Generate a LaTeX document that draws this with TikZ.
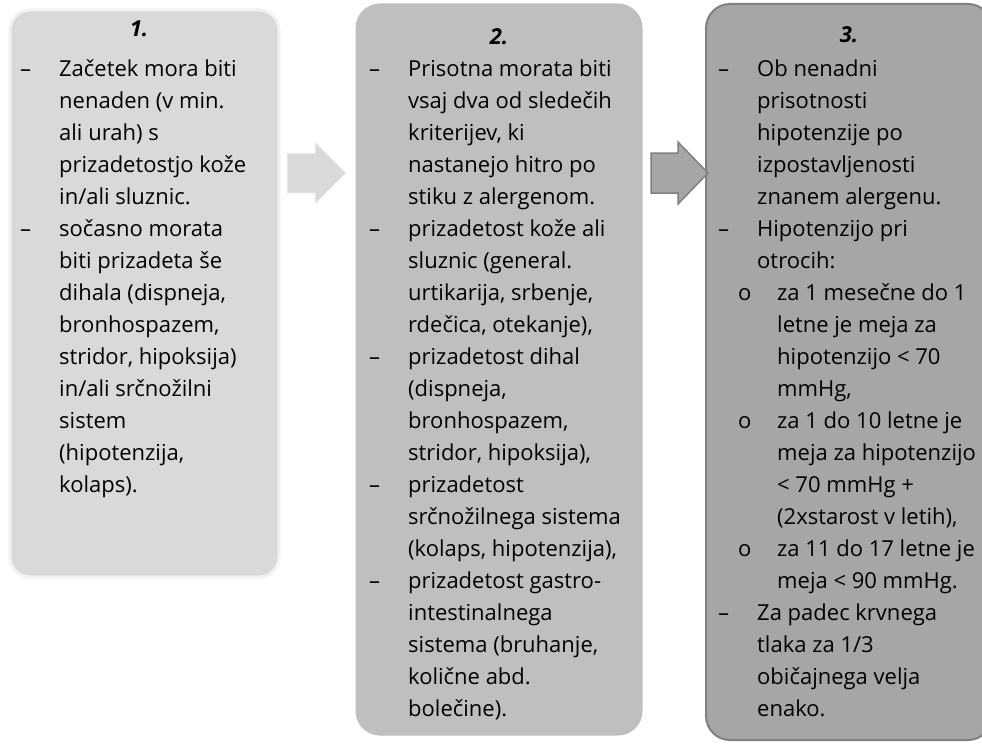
\documentclass[tikz,border=0pt]{standalone}
\usepackage{fontspec}
\setmainfont{Open Sans}
\newcommand\dsh{\leavevmode\llap{\makebox[39pt][l]{–}}}
\newcommand\sub{\hspace*{20pt}}
\newcommand\bul{\hspace*{20pt}\llap{\makebox[39pt][l]{o}}}
\begin{document}
\begin{tikzpicture}[x=1pt,y=-1pt,
  boxa/.style={draw=black!5,line width=3pt,fill=black!15,rounded corners=20pt,inner sep=0pt},
  boxb/.style={draw=black!25,line width=1pt,fill=black!25,rounded corners=24pt,inner sep=0pt},
  boxc/.style={draw=black!50,line width=2pt,fill=black!35,rounded corners=24pt,inner sep=0pt},
  arra/.style={fill=black!15,draw=black!5,line width=1pt},
  arrb/.style={fill=black!35,draw=black!50,line width=1.5pt},
  txt/.style={anchor=base west,inner sep=0pt,font=\fontsize{22}{32}\selectfont},
  ttl/.style={anchor=base,inner sep=0pt,font=\fontsize{22}{32}\selectfont\bfseries\itshape}]
\useasboundingbox (0,0) rectangle (982,749);
\node[boxa,minimum width=269pt,minimum height=567pt] (b1) at (144.5,293.5) {};
\node[boxb,minimum width=286pt,minimum height=731pt] (b2) at (499,369.5) {};
\node[boxc,minimum width=286pt,minimum height=736pt] (b3) at (849,372) {};
\draw[arra] (287,153) -- (315,153) -- (315,142) -- (346,173) -- (315,204) -- (315,193) -- (287,193) -- cycle;
\draw[arrb] (651,153) -- (678,153) -- (678,142) -- (708,173) -- (678,204) -- (678,193) -- (651,193) -- cycle;
\node[ttl] (t1) at (139,37) {1.};
\node[ttl] (t2) at (499,45) {2.};
\node[ttl] (t3) at (849,43) {3.};
\node[txt] (x1) at (59,77) {\parbox[t]{300pt}{%
\dsh Začetek mora biti\\
nenaden (v min.\\
ali urah) s\\
prizadetostjo kože\\
in/ali sluznic.\\
\dsh sočasno morata\\
biti prizadeta še\\
dihala (dispneja,\\
bronhospazem,\\
stridor, hipoksija)\\
in/ali srčnožilni\\
sistem\\
(hipotenzija,\\
kolaps).}};
\node[txt] (x2) at (408,77) {\parbox[t]{300pt}{%
\dsh Prisotna morata biti\\
vsaj dva od sledečih\\
kriterijev, ki\\
nastanejo hitro po\\
stiku z alergenom.\\
\dsh prizadetost kože ali\\
sluznic (general.\\
urtikarija, srbenje,\\
rdečica, otekanje),\\
\dsh prizadetost dihal\\
(dispneja,\\
bronhospazem,\\
stridor, hipoksija),\\
\dsh prizadetost\\
srčnožilnega sistema\\
(kolaps, hipotenzija),\\
\dsh prizadetost gastro-\\
intestinalnega\\
sistema (bruhanje,\\
količne abd.\\
bolečine).}};
\node[txt] (x3) at (757,77) {\parbox[t]{300pt}{%
\dsh Ob nenadni\\
prisotnosti\\
hipotenzije po\\
izpostavljenosti\\
znanem alergenu.\\
\dsh Hipotenzijo pri\\
otrocih:\\
\bul za 1 mesečne do 1\\
\sub letne je meja za\\
\sub hipotenzijo < 70\\
\sub mmHg,\\
\bul za 1 do 10 letne je\\
\sub meja za hipotenzijo\\
\sub < 70 mmHg +\\
\sub (2xstarost v letih),\\
\bul za 11 do 17 letne je\\
\sub meja < 90 mmHg.\\
\dsh Za padec krvnega\\
tlaka za 1/3\\
običajnega velja\\
enako.}};
\end{tikzpicture}
\end{document}
